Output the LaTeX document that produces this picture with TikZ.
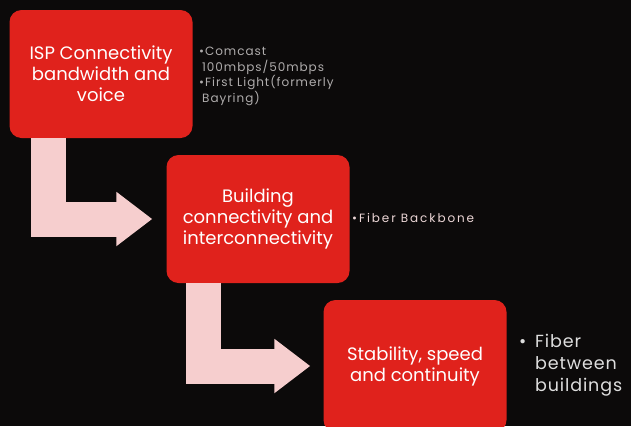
\documentclass[tikz,border=0pt]{standalone}
\usepackage{fontspec}
\setmainfont{Poppins}
\newfontfamily\spacedfont[LetterSpace=8]{Poppins}
\newfontfamily\widespacedfont[LetterSpace=16]{Poppins}
\newfontfamily\bulletfont[LetterSpace=5]{Poppins}
\usetikzlibrary{arrows.meta}
\definecolor{boxred}{RGB}{224,34,28}
\definecolor{arrowpink}{RGB}{246,206,206}
\definecolor{bgblack}{RGB}{12,10,10}
\definecolor{notegray}{RGB}{175,172,172}
\definecolor{notepink}{RGB}{236,214,214}
\definecolor{notelight}{RGB}{222,222,222}
\begin{document}
\begin{tikzpicture}[x=1pt,y=-1pt,
  stage/.style={fill=boxred, rounded corners=12pt, text=white, align=center, inner sep=0pt,
    font=\fontsize{18}{21}\selectfont, minimum width=183pt, minimum height=128pt},
  bent/.style={draw=arrowpink, line width=35pt, line join=miter, -{Triangle[length=36pt,width=52pt]}},
  note/.style={anchor=north west, align=left, inner sep=0pt}]
\fill[bgblack] (0,0) rectangle (631,426);
\useasboundingbox (0,0) rectangle (631,426);

\node[stage] (isp) at (101,74) {ISP Connectivity\\bandwidth and\\voice};
\node[stage] (building) at (258,219) {Building\\connectivity and\\interconnectivity};
\node[stage, minimum height=132pt] (stability) at (415,366) {Stability, speed\\and continuity};

\path[bent, shorten >=14pt] ([xshift=39.5pt]isp.south west) |- (building.west);
\path[bent, shorten >=13pt] ([xshift=37pt]building.south west) |- (stability.west);

\node[note, text=notegray, font=\spacedfont\fontsize{12}{15.5}\selectfont] (ispnote) at (199,47)
  {\textbullet Comcast\\\hspace*{3pt}100mbps/50mbps\\\textbullet First Light(formerly\\\hspace*{3pt}Bayring)};
\node[note, text=notepink, font=\widespacedfont\fontsize{12}{15}\selectfont, anchor=west] (buildingnote) at (352,218)
  {\textbullet Fiber Backbone};
\node[note, text=notelight, font=\bulletfont\fontsize{17.5}{22}\selectfont] (stabilitynote) at (519,334)
  {\makebox[16pt][l]{\textbullet}Fiber\\\hspace*{16pt}between\\\hspace*{16pt}buildings};
\end{tikzpicture}
\end{document}
